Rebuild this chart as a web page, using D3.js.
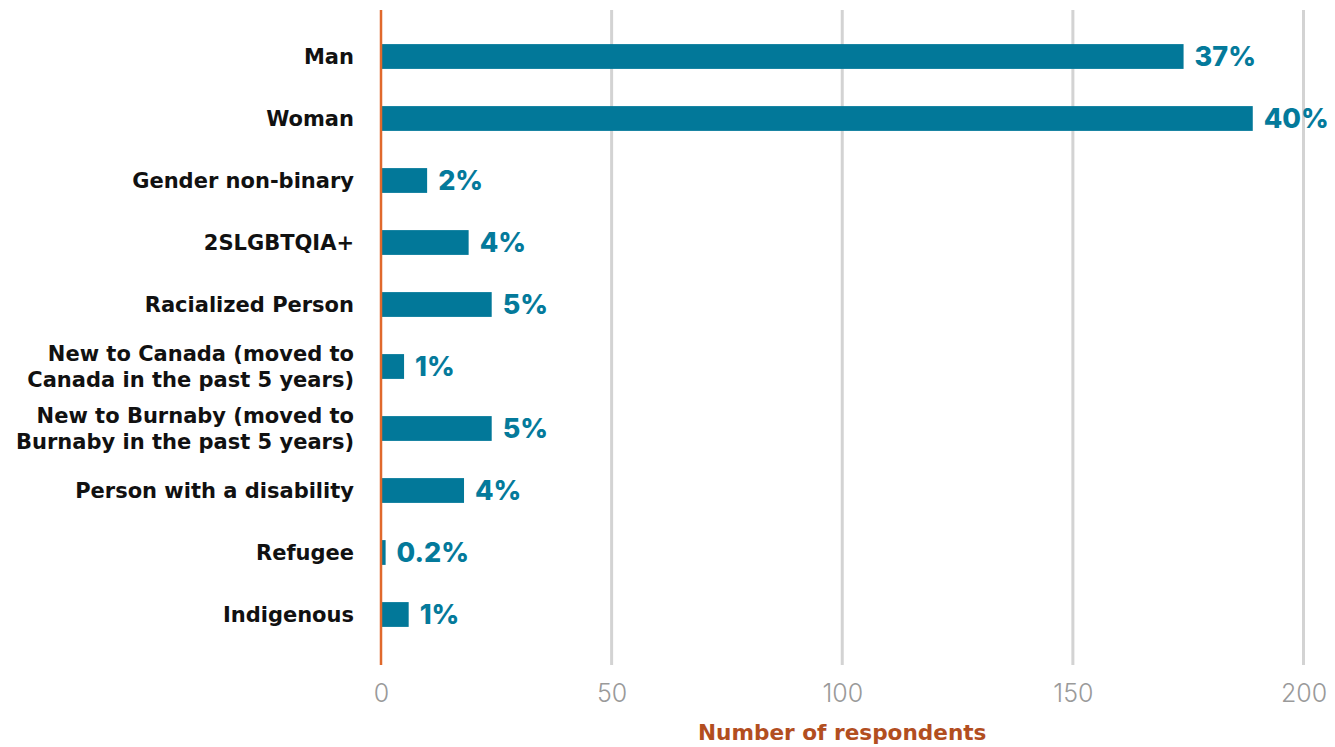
<!DOCTYPE html>
<html>
<head>
<meta charset="utf-8">
<script src="https://cdn.jsdelivr.net/npm/d3@7"></script>
<style>
  html, body { margin: 0; padding: 0; background: #fff; }
  svg { display: block; }
  text { font-family: "Inter", "Noto Sans", sans-serif; }
</style>
</head>
<body>
<svg id="chart" width="1335" height="747"></svg>
<script>
// Respondent groups (line breaks mark where long labels wrap)
const categories = [
  "Man",
  "Woman",
  "Gender non-binary",
  "2SLGBTQIA+",
  "Racialized Person",
  "New to Canada (moved to\nCanada in the past 5 years)",
  "New to Burnaby (moved to\nBurnaby in the past 5 years)",
  "Person with a disability",
  "Refugee",
  "Indigenous"
];
// Number of respondents in each group
const counts = [174, 189, 10, 19, 24, 5, 24, 18, 1, 6];
// Share of respondents, as printed beside each bar
const shares = ["37%", "40%", "2%", "4%", "5%", "1%", "5%", "4%", "0.2%", "1%"];
const xTicks = [0, 50, 100, 150, 200];

const svg = d3.select("#chart");
const plotLeft = 381, plotRight = 1303.5, plotTop = 25.5, plotBottom = 645.5;

const x = d3.scaleLinear().domain([0, 200]).range([plotLeft, plotRight]);
const y = d3.scaleBand().domain(categories).range([plotTop, plotBottom]).paddingInner(0.6).paddingOuter(0.3);

// Vertical grid lines
svg.append("g").selectAll("line")
  .data(xTicks.filter(d => d > 0))
  .join("line")
  .attr("x1", d => x(d)).attr("x2", d => x(d))
  .attr("y1", 10).attr("y2", 665)
  .attr("stroke", "#d3d3d3").attr("stroke-width", 3);

// Tick labels
const xAxis = d3.axisBottom(x).tickValues(xTicks).tickSize(0).tickPadding(0);
const gx = svg.append("g").attr("transform", "translate(0,684)").call(xAxis);
gx.select(".domain").remove();
gx.selectAll("text")
  .attr("dy", "0.71em")
  .attr("fill", "#9a9a9a")
  .style("font-size", "25px")
  .style("font-weight", 300)
  .style("font-family", "Inter, sans-serif");

// Bars
svg.append("g").selectAll("rect")
  .data(categories)
  .join("rect")
  .attr("x", x(0) + 1)
  .attr("y", d => y(d))
  .attr("width", (d, i) => x(counts[i]) - x(0) - 1)
  .attr("height", y.bandwidth())
  .attr("fill", "#027899");

// Value labels
svg.append("g").selectAll("text")
  .data(categories)
  .join("text")
  .attr("x", (d, i) => x(counts[i]) + 11)
  .attr("y", d => y(d) + y.bandwidth() / 2)
  .attr("dy", "0.36em")
  .attr("fill", "#047a9b")
  .style("font-size", "27px")
  .style("font-weight", 800)
  .text((d, i) => shares[i]);

// Category labels
const fs = 21;
const yLabels = svg.append("g").selectAll("text")
  .data(categories)
  .join("text")
  .attr("x", 354)
  .attr("y", d => y(d) + y.bandwidth() / 2)
  .attr("text-anchor", "end")
  .attr("fill", "#111")
  .style("font-family", "DejaVu Sans, sans-serif")
  .style("font-size", fs + "px")
  .style("font-weight", 700);
yLabels.each(function(d) {
  const lines = d.split("\n");
  const lh = 26;
  const t = d3.select(this);
  lines.forEach((ln, k) => {
    t.append("tspan")
      .attr("x", 354)
      .attr("dy", k === 0 ? (0.36 * fs - (lines.length - 1) * lh / 2) + "px" : lh + "px")
      .text(ln);
  });
});

// Zero line
svg.append("line")
  .attr("x1", x(0)).attr("x2", x(0))
  .attr("y1", 10).attr("y2", 665)
  .attr("stroke", "#e0692c").attr("stroke-width", 2.5);

// Axis title
svg.append("text")
  .attr("x", (plotLeft + plotRight) / 2)
  .attr("y", 740)
  .attr("text-anchor", "middle")
  .attr("fill", "#b24e1f")
  .style("font-family", "DejaVu Sans, sans-serif")
  .style("font-size", "21.6px")
  .style("font-weight", 700)
  .text("Number of respondents");
</script>
</body>
</html>
